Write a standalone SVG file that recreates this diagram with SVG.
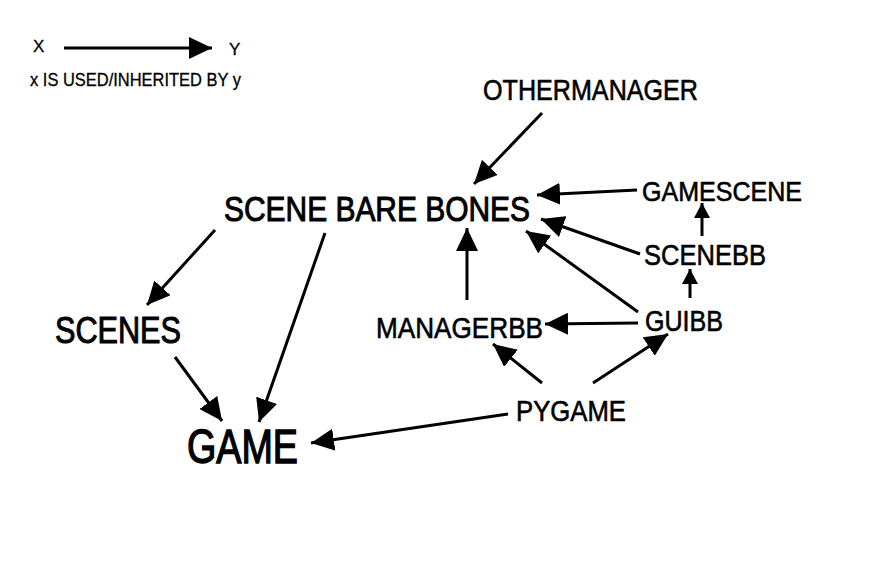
<svg xmlns="http://www.w3.org/2000/svg" width="885" height="586" viewBox="0 0 885 586">
<style>
text{font-family:"Liberation Sans","DejaVu Sans",sans-serif;fill:#000;stroke:#000;stroke-width:0.6}
.b{stroke-width:1}
.e{stroke:#000;stroke-width:3;fill:none;marker-end:url(#ah)}
.s{stroke:#000;stroke-width:3;fill:none;marker-end:url(#as)}
</style>
<defs>
<marker id="ah" markerUnits="userSpaceOnUse" markerWidth="24" markerHeight="22" viewBox="0 0 24 22" refX="23" refY="11" orient="auto"><path d="M0,0 L23,11 L0,22 z" fill="#000"/></marker>
<marker id="as" markerUnits="userSpaceOnUse" markerWidth="16" markerHeight="16" viewBox="0 0 16 16" refX="15" refY="8" orient="auto"><path d="M0,0 L15,8 L0,16 z" fill="#000"/></marker>
</defs>
<rect width="885" height="586" fill="#fff"/>
<g id="legend">
<text x="33" y="52" font-size="17" style="stroke-width:0.3">X</text>
<text x="229" y="55" font-size="17" style="stroke-width:0.3">Y</text>
<line class="e" x1="64" y1="48" x2="212" y2="48"/>
<text x="30" y="86" font-size="18" textLength="211" lengthAdjust="spacingAndGlyphs" style="stroke-width:0.3">x IS USED/INHERITED BY y</text>
</g>
<g id="connectors">
<line class="e" x1="542" y1="113" x2="474" y2="184"/>
<line class="e" x1="637" y1="190" x2="537" y2="195"/>
<line class="e" x1="640" y1="254" x2="541" y2="219"/>
<line class="e" x1="638" y1="312" x2="526" y2="231"/>
<line class="e" x1="467" y1="300" x2="467" y2="228"/>
<line class="s" x1="702" y1="236" x2="702" y2="203"/>
<line class="s" x1="690" y1="298" x2="690" y2="269"/>
<line class="e" x1="638" y1="323" x2="545" y2="324"/>
<line class="e" x1="542" y1="383" x2="493" y2="344"/>
<line class="e" x1="593" y1="383" x2="668" y2="334"/>
<line class="e" x1="508" y1="414" x2="311" y2="443"/>
<line class="e" x1="215" y1="230" x2="147" y2="305"/>
<line class="e" x1="325" y1="233" x2="259" y2="422"/>
<line class="e" x1="175" y1="357" x2="222" y2="421"/>
</g>
<g id="othermanager"><text x="483" y="100" font-size="29" textLength="215" lengthAdjust="spacingAndGlyphs">OTHERMANAGER</text></g>
<g id="scenebarebones"><text class="b" x="224" y="221" font-size="35" textLength="306" lengthAdjust="spacingAndGlyphs">SCENE BARE BONES</text></g>
<g id="gamescene"><text x="642" y="201" font-size="28" textLength="160" lengthAdjust="spacingAndGlyphs">GAMESCENE</text></g>
<g id="scenebb"><text x="644" y="265" font-size="29" textLength="122" lengthAdjust="spacingAndGlyphs">SCENEBB</text></g>
<g id="guibb"><text x="645" y="331" font-size="29" textLength="78" lengthAdjust="spacingAndGlyphs">GUIBB</text></g>
<g id="managerbb"><text x="376" y="338" font-size="29" textLength="167" lengthAdjust="spacingAndGlyphs">MANAGERBB</text></g>
<g id="pygame"><text x="516" y="421" font-size="29" textLength="110" lengthAdjust="spacingAndGlyphs">PYGAME</text></g>
<g id="scenes"><text class="b" x="55" y="343" font-size="36" textLength="126" lengthAdjust="spacingAndGlyphs">SCENES</text></g>
<g id="game"><text class="b" x="187" y="463" font-size="48" textLength="111" lengthAdjust="spacingAndGlyphs" style="stroke-width:1.4">GAME</text></g>
</svg>
